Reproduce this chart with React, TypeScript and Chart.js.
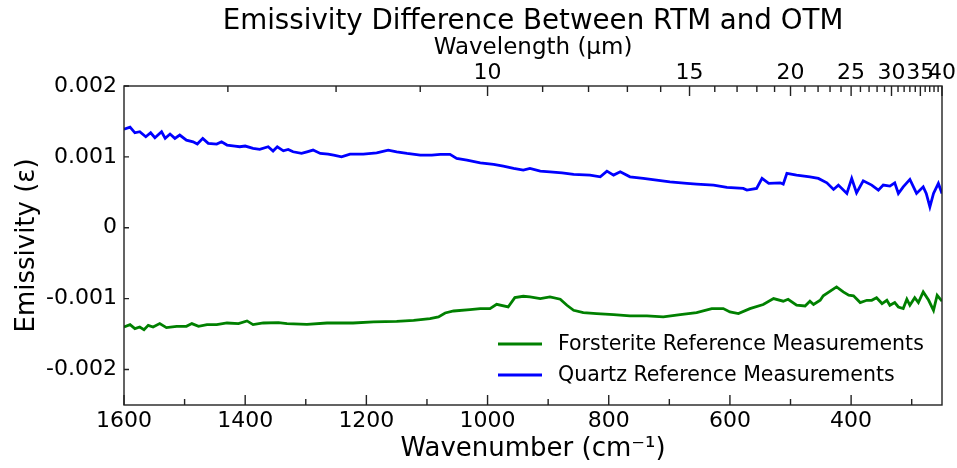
import React, { useEffect, useRef } from "react";
import { Chart, registerables } from "chart.js";

Chart.register(...registerables);

const TITLE = "Emissivity Difference Between RTM and OTM";
const X_TITLE = "Wavenumber (cm⁻¹)";
const Y_TITLE = "Emissivity (ε)";
const TOP_TITLE = "Wavelength (µm)";

const forsteriteLabel = "Forsterite Reference Measurements";
const quartzLabel = "Quartz Reference Measurements";

const quartzWavenumber = [
  1600, 1590, 1582, 1574, 1564, 1556, 1549, 1538, 1532, 1524, 1516, 1508, 1497, 1486, 1479, 1470,
  1461, 1447, 1439, 1430, 1417, 1409, 1400, 1387, 1376, 1362, 1354, 1347, 1337, 1329, 1321, 1307,
  1298, 1288, 1276, 1263, 1254, 1241, 1227, 1205, 1183, 1164, 1150, 1133, 1111, 1092, 1078, 1062,
  1051, 1034, 1012, 990, 974, 957, 941, 930, 913, 897, 877, 858, 831, 814, 803, 792, 781, 765, 743,
  721, 699, 671, 655, 627, 605, 578, 572, 556, 547, 536, 517, 512, 506, 490, 468, 454, 440, 429,
  421, 407, 399, 391, 380, 366, 355, 347, 336, 328, 322, 314, 303, 292, 281, 276, 270, 264, 256,
  250,
];
const quartzValues = [
  0.00139, 0.00142, 0.00134, 0.001355, 0.001284, 0.00134, 0.00127, 0.001355, 0.001261, 0.001322,
  0.001261, 0.001308, 0.001237, 0.001213, 0.001181, 0.001261, 0.001191, 0.001181, 0.001213, 0.001167,
  0.001153, 0.001143, 0.001153, 0.00112, 0.001106, 0.001143, 0.001082, 0.001143, 0.001086, 0.001106,
  0.001072, 0.001049, 0.001072, 0.001096, 0.001049, 0.00104, 0.001025, 0.001001, 0.00104, 0.00104,
  0.001058, 0.001096, 0.001072, 0.001049, 0.001025, 0.001025, 0.001035, 0.001035, 0.000979, 0.000955,
  0.000917, 0.000894, 0.00087, 0.000838, 0.000814, 0.000838, 0.000799, 0.00079, 0.000775, 0.000753,
  0.000743, 0.000719, 0.000799, 0.000743, 0.00079, 0.000719, 0.000696, 0.000672, 0.000648, 0.000626,
  0.000616, 0.000602, 0.000569, 0.000555, 0.000531, 0.000555, 0.000696, 0.000626, 0.000634, 0.000616,
  0.000767, 0.000743, 0.000719, 0.000696, 0.000634, 0.000541, 0.000602, 0.000484, 0.000696, 0.000493,
  0.000662, 0.000602, 0.000531, 0.000602, 0.000588, 0.000634, 0.000484, 0.000578, 0.000682, 0.000484,
  0.000578, 0.000484, 0.000295, 0.000484, 0.000626, 0.000484,
];

const forsteriteWavenumber = [
  1600, 1590, 1582, 1574, 1567, 1560, 1552, 1541, 1530, 1513, 1497, 1488, 1477, 1463, 1447, 1430,
  1411, 1397, 1387, 1370, 1345, 1331, 1298, 1265, 1222, 1188, 1150, 1122, 1095, 1081, 1070, 1056,
  1029, 1012, 996, 985, 966, 955, 941, 930, 913, 897, 880, 869, 858, 842, 820, 792, 765, 737, 710,
  682, 655, 630, 611, 600, 586, 567, 545, 528, 512, 504, 490, 476, 468, 462, 451, 446, 424, 413,
  404, 396, 385, 374, 366, 358, 349, 341, 336, 328, 322, 314, 308, 303, 295, 289, 281, 272, 264,
  258, 250,
];
const forsteriteValues = [
  -0.0014, -0.001366, -0.001422, -0.0014, -0.001437, -0.001376, -0.0014, -0.001352, -0.001408,
  -0.00139, -0.00139, -0.001352, -0.00139, -0.001366, -0.001366, -0.001343, -0.001352, -0.001314,
  -0.001366, -0.001343, -0.001338, -0.001352, -0.001362, -0.001343, -0.001343, -0.001328, -0.001319,
  -0.001305, -0.001281, -0.001258, -0.001202, -0.001174, -0.001154, -0.00114, -0.00114, -0.001079,
  -0.001117, -0.000985, -0.000966, -0.000976, -0.000999, -0.000976, -0.001008, -0.001093, -0.001164,
  -0.001196, -0.00121, -0.001225, -0.001244, -0.001244, -0.001258, -0.001225, -0.001196, -0.00114,
  -0.00114, -0.001187, -0.00121, -0.00114, -0.001083, -0.000999, -0.001036, -0.001008, -0.001093,
  -0.001103, -0.001036, -0.001083, -0.001023, -0.000959, -0.000834, -0.000905, -0.000952, -0.000959,
  -0.001055, -0.001023, -0.001023, -0.000987, -0.001069, -0.001023, -0.001093, -0.001055, -0.001117,
  -0.00114, -0.001008, -0.001093, -0.000987, -0.001055, -0.000905, -0.001023, -0.001164, -0.000952,
  -0.001036,
];

const xMajorTicks = [1600, 1400, 1200, 1000, 800, 600, 400];
const xMinorTicks = [1500, 1300, 1100, 900, 700, 500, 300];
const yTicks = [0.002, 0.001, 0, -0.001, -0.002];
const topMajorWavelengths = [10, 15, 20, 25, 30, 35, 40];
const topMinorWavelengths = [
  7, 8, 9, 11, 12, 13, 14, 16, 17, 18, 19, 21, 22, 23, 24, 26, 27, 28, 29, 31, 32, 33, 34, 36, 37,
  38, 39,
];

const FORSTERITE_COLOR = "#008000";
const QUARTZ_COLOR = "#0000ff";
const AXIS_COLOR = "#222222";
const FONT = "'DejaVu Sans', sans-serif";

const decorPlugin = {
  id: "decor",
  afterDraw(chart: any) {
    const ctx = chart.ctx;
    const ca = chart.chartArea;
    const xs = chart.scales.x;
    const xt = chart.scales.xTop;
    const ys = chart.scales.y;
    ctx.save();

    // title centred over the plot area
    ctx.fillStyle = "#000";
    ctx.font = `27.7px ${FONT}`;
    ctx.textAlign = "center";
    ctx.textBaseline = "alphabetic";
    ctx.fillText(TITLE, (ca.left + ca.right) / 2, 28.5);

    ctx.strokeStyle = AXIS_COLOR;
    ctx.lineWidth = 1.4;
    ctx.strokeRect(ca.left, ca.top, ca.right - ca.left, ca.bottom - ca.top);
    ctx.beginPath();
    xMajorTicks.forEach((v) => {
      const p = xs.getPixelForValue(v);
      ctx.moveTo(p, ca.bottom);
      ctx.lineTo(p, ca.bottom - 10);
    });
    xMinorTicks.forEach((v) => {
      const p = xs.getPixelForValue(v);
      ctx.moveTo(p, ca.bottom);
      ctx.lineTo(p, ca.bottom - 6);
    });
    topMajorWavelengths.forEach((l) => {
      const p = xt.getPixelForValue(10000 / l);
      ctx.moveTo(p, ca.top);
      ctx.lineTo(p, ca.top + 10);
    });
    topMinorWavelengths.forEach((l) => {
      const p = xt.getPixelForValue(10000 / l);
      ctx.moveTo(p, ca.top);
      ctx.lineTo(p, ca.top + 6);
    });
    yTicks.forEach((v) => {
      const p = ys.getPixelForValue(v);
      ctx.moveTo(ca.left, p);
      ctx.lineTo(ca.left + 5, p);
    });
    ctx.stroke();

    // legend
    const items = chart.data.datasets;
    const lineX0 = ca.right - 444;
    const lineX1 = lineX0 + 44;
    const textX = lineX1 + 16;
    const y0 = ca.bottom - 61;
    const dy = 31;
    ctx.font = `20.5px ${FONT}`;
    ctx.textBaseline = "middle";
    ctx.textAlign = "left";
    items.forEach((ds: any, i: number) => {
      const y = y0 + i * dy;
      ctx.strokeStyle = ds.borderColor;
      ctx.lineWidth = 3;
      ctx.beginPath();
      ctx.moveTo(lineX0, y);
      ctx.lineTo(lineX1, y);
      ctx.stroke();
      ctx.fillStyle = "#000";
      ctx.fillText(ds.label, textX, y + 1);
    });
    ctx.restore();
  },
};

export default function App() {
  const ref = useRef<HTMLCanvasElement | null>(null);
  useEffect(() => {
    if (!ref.current) return;
    Chart.defaults.font.family = FONT;
    const chart = new Chart(ref.current, {
      type: "line",
      data: {
        datasets: [
          {
            label: forsteriteLabel,
            data: forsteriteWavenumber.map((x, i) => ({ x, y: forsteriteValues[i] })),
            borderColor: FORSTERITE_COLOR,
            borderWidth: 2.8,
            pointRadius: 0,
            xAxisID: "x",
            yAxisID: "y",
          },
          {
            label: quartzLabel,
            data: quartzWavenumber.map((x, i) => ({ x, y: quartzValues[i] })),
            borderColor: QUARTZ_COLOR,
            borderWidth: 2.8,
            pointRadius: 0,
            xAxisID: "x",
            yAxisID: "y",
          },
        ],
      },
      options: {
        animation: false,
        responsive: false,
        devicePixelRatio: 1,
        layout: { padding: { left: 0, right: 15, top: 32, bottom: 0 } },
        plugins: {
          legend: { display: false },
          tooltip: { enabled: false },
          title: { display: false },
        },
        scales: {
          x: {
            type: "linear",
            position: "bottom",
            reverse: true,
            min: 250,
            max: 1600,
            afterBuildTicks: (s: any) => {
              s.ticks = xMajorTicks.map((v) => ({ value: v }));
            },
            afterFit: (s: any) => {
              s.height = 63;
            },
            ticks: {
              autoSkip: false,
              maxRotation: 0,
              padding: 3,
              color: "#000",
              font: { size: 22 },
              callback: (v: any) => String(v),
            },
            grid: { display: false, drawTicks: false },
            border: { display: false },
            title: {
              display: true,
              text: X_TITLE,
              color: "#000",
              font: { size: 26 },
              padding: { top: 0, bottom: 3 },
            },
          },
          xTop: {
            type: "linear",
            position: "top",
            reverse: true,
            min: 250,
            max: 1600,
            afterBuildTicks: (s: any) => {
              s.ticks = topMajorWavelengths.map((l) => ({ value: 10000 / l }));
            },
            afterFit: (s: any) => {
              s.height = 54;
            },
            ticks: {
              autoSkip: false,
              maxRotation: 0,
              padding: 0,
              color: "#000",
              font: { size: 22 },
              callback: (_v: any, i: number) => String(topMajorWavelengths[i]),
            },
            grid: { display: false, drawTicks: false },
            border: { display: false },
            title: {
              display: true,
              text: TOP_TITLE,
              color: "#000",
              font: { size: 23, lineHeight: 1 },
              padding: { top: 5, bottom: 0 },
            },
          },
          y: {
            type: "linear",
            min: -0.0025,
            max: 0.002,
            afterBuildTicks: (s: any) => {
              s.ticks = yTicks.map((v) => ({ value: v }));
            },
            afterFit: (s: any) => {
              s.width = 124;
            },
            ticks: {
              padding: 7,
              color: "#000",
              font: { size: 22 },
              callback: (v: any) => (Math.abs(v) < 1e-12 ? "0" : Number(v).toFixed(3)),
            },
            grid: { display: false, drawTicks: false },
            border: { display: false },
            title: {
              display: true,
              text: Y_TITLE,
              color: "#000",
              font: { size: 26 },
              padding: { top: 12, bottom: 0 },
            },
          },
        },
      } as any,
      plugins: [decorPlugin],
    });
    return () => chart.destroy();
  }, []);
  return (
    <div style={{ position: "fixed", left: 0, top: 0, width: 957, height: 468, background: "#fff" }}>
      <canvas ref={ref} width={957} height={468} style={{ display: "block" }} />
    </div>
  );
}
